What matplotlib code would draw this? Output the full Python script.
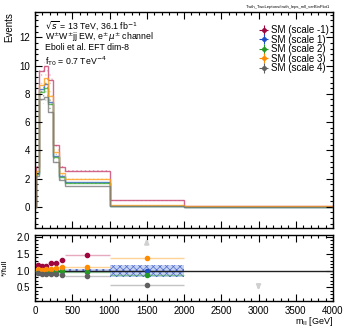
import numpy as np
import matplotlib
matplotlib.use("Agg")
import matplotlib.pyplot as plt
from matplotlib.ticker import MultipleLocator

plt.rcParams['font.family'] = ['Liberation Sans', 'DejaVu Sans']
plt.rcParams['hatch.linewidth'] = 0.5

# binning in m_ll [GeV]
edges = [20, 60, 120, 180, 240, 320, 400, 1000, 2000, 4000]

# event yields per bin
full = [2.4, 8.35, 8.65, 7.4, 3.6, 2.15, 1.75, 0.08, 0.0]
scale_m1 = [2.8, 9.6, 9.95, 9.0, 4.4, 2.8, 2.55, 0.45, 0.06]
scale_1 = [2.4, 8.35, 8.7, 7.4, 3.6, 2.15, 1.75, 0.08, 0.02]
scale_2 = [2.35, 8.1, 8.4, 7.25, 3.5, 2.1, 1.68, 0.07, 0.02]
scale_3 = [2.55, 8.6, 9.1, 7.85, 3.9, 2.4, 1.96, 0.11, 0.03]
scale_4 = [2.2, 7.6, 7.8, 6.7, 3.2, 1.87, 1.47, 0.046, 0.005]

# relative stat. uncertainty of the full prediction
full_relerr = [0.03, 0.02, 0.02, 0.02, 0.03, 0.04, 0.04, 0.18, 0.0]
down_arrow_bins = [8]

labels = ['SM (scale -1)', 'SM (scale 1)', 'SM (scale 2)', 'SM (scale 3)', 'SM (scale 4)']
line_colors = ['#c8406e', '#3060d0', '#38a838', '#ff9f1c', '#7a7a7a']
mark_colors = ['#a0063e', '#1f4fc8', '#249a24', '#ff8c00', '#606060']
series = [scale_m1, scale_1, scale_2, scale_3, scale_4]

edges = np.array(edges, dtype=float)
centers = 0.5 * (edges[1:] + edges[:-1])
halfw = 0.5 * (edges[1:] - edges[:-1])
full = np.array(full)

fig = plt.figure(figsize=(3.43, 3.30), dpi=100)
ax = fig.add_axes([0.102, 0.309, 0.869, 0.655])
rax = fig.add_axes([0.102, 0.088, 0.869, 0.200])

# top panel: step histograms with light error boxes
for vals, lc in zip(series, line_colors):
    v = np.array(vals)
    err = 0.04 * v + 0.02
    ax.fill_between(edges, np.append(v - err, (v - err)[-1]), np.append(v + err, (v + err)[-1]),
                    step='post', facecolor='none', edgecolor=lc, alpha=0.35, hatch='....', linewidth=0)
    ax.stairs(v, edges, baseline=None, color=lc, linewidth=1.0, alpha=0.8)
    ax.plot([edges[0], edges[0]], [0, v[0]], color=lc, linewidth=1.0, alpha=0.8)
    ax.plot([edges[-1], edges[-1]], [0, v[-1]], color=lc, linewidth=1.0, alpha=0.8)

ax.set_xlim(0, 4000)
ax.set_ylim(-1.5, 13.8)
ax.set_ylabel('Events', fontsize=7, loc='top', labelpad=4)

# legend entries as marker with error bar
for lab, mc in zip(labels, mark_colors):
    ax.errorbar([], [], xerr=[], yerr=[], fmt='o', ms=2.5, color=mc, elinewidth=0.8, label=lab)
leg = ax.legend(loc='upper right', bbox_to_anchor=(1.01, 0.97), fontsize=7, frameon=False,
                handlelength=1.0, handletextpad=0.3, labelspacing=-0.05, borderpad=0.2)

tx = 0.035
ax.text(tx, 0.938, r'$\sqrt{s}$ = 13 TeV, 36.1 fb$^{-1}$', transform=ax.transAxes, fontsize=6.3, va='center')
ax.text(tx, 0.882, r'W$^{\pm}$W$^{\pm}$jj EW, e$^{\pm}\mu^{\pm}$ channel', transform=ax.transAxes, fontsize=6.3, va='center')
ax.text(tx, 0.833, 'Eboli et al. EFT dim-8', transform=ax.transAxes, fontsize=6.3, va='center')
ax.text(tx, 0.773, r'f$_{\rm T0}$ = 0.7 TeV$^{-4}$', transform=ax.transAxes, fontsize=6.3, va='center')
ax.text(0.99, 1.012, 'Truth_TwoLeptons/truth_leps_mll_varBinPlot1', transform=ax.transAxes,
        fontsize=3, ha='right', va='bottom')

# ratio panel
relerr = np.array(full_relerr)
rax.fill_between(edges, np.append(1 - relerr, 1 - relerr[-1]), np.append(1 + relerr, 1 + relerr[-1]),
                 step='post', facecolor='#b8c8f0', edgecolor='#3050c0', hatch='xxxxx',
                 linewidth=0, alpha=0.8)
rax.axhline(1.0, color='#202020', linewidth=1.0, zorder=5)

rmin, rmax = 0.1, 2.06
for vals, lc, mc in zip(series, line_colors, mark_colors):
    v = np.array(vals)
    with np.errstate(divide='ignore', invalid='ignore'):
        r = np.where(full > 0, v / full, np.nan)
    inside = (r > rmin) & (r < rmax)
    rax.errorbar(centers[inside], r[inside], xerr=halfw[inside], fmt='none', ecolor=lc,
                 elinewidth=1.0, alpha=0.45, zorder=3)
    rax.plot(centers[inside], r[inside], 'o', ms=3, color=mc, zorder=6)
    high = r >= rmax
    for c in centers[high]:
        rax.annotate('', xy=(c, 2.02), xytext=(c, 1.78),
                     arrowprops=dict(arrowstyle='-|>', color='#d0d0d0', lw=1.5, mutation_scale=6))
for b in down_arrow_bins:
    rax.annotate('', xy=(centers[b], 0.35), xytext=(centers[b], 0.6),
                 arrowprops=dict(arrowstyle='-|>', color='#d0d0d0', lw=1.5, mutation_scale=6))

rax.set_xlim(0, 4000)
rax.set_ylim(rmin, rmax)
rax.set_ylabel('*/full', fontsize=6, labelpad=6)
rax.set_xlabel(r'm$_{\rm ll}$ [GeV]', fontsize=6.5, ha='right', va='top')
rax.xaxis.set_label_coords(1.0, -0.22)
rax.set_yticks([0.5, 1.0, 1.5, 2.0])
rax.set_yticklabels(['0.5', '1.0', '1.5', '2.0'])

for a in (ax, rax):
    a.xaxis.set_major_locator(MultipleLocator(500))
    a.xaxis.set_minor_locator(MultipleLocator(100))
    a.tick_params(which='both', direction='in', top=True, right=True, labelsize=7, width=0.8)
    a.tick_params(which='major', length=5)
    a.tick_params(which='minor', length=2.5)
    for s in a.spines.values():
        s.set_linewidth(1.0)
ax.yaxis.set_major_locator(MultipleLocator(2))
ax.yaxis.set_minor_locator(MultipleLocator(0.4))
ax.tick_params(labelbottom=False)
rax.yaxis.set_minor_locator(MultipleLocator(0.1))

fig.savefig('out.png', dpi=100)
